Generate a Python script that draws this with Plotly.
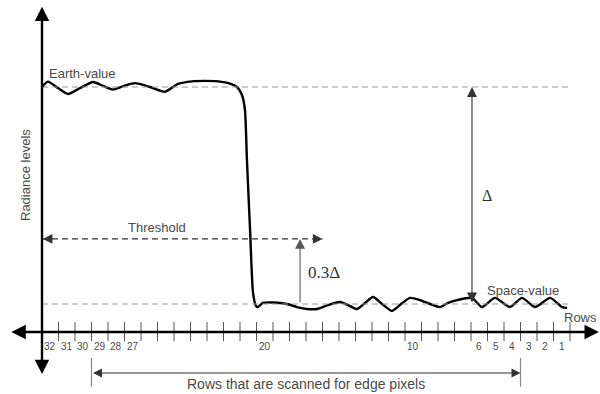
import plotly.graph_objects as go

# Scan-row position (one unit per row cell, 0 = left axis) and normalised radiance
# (space level = 0, earth level = 1) of the edge profile.
profile_pos = [0.00, 0.36, 0.97, 1.58, 2.30, 3.09, 3.70, 4.30, 4.97, 5.64, 6.55, 7.45,
               8.24, 9.09, 9.88, 10.67, 11.39, 11.82, 12.12, 12.30, 12.42, 12.61, 12.79,
               12.97, 13.09, 13.39, 14.00, 14.85, 15.45, 16.06, 16.67, 17.33, 18.06,
               18.55, 19.09, 19.58, 20.06, 20.61, 21.21, 21.76, 22.30, 22.91, 23.52,
               24.12, 24.61, 25.15, 26.06, 26.67, 27.45, 28.36, 29.09, 29.88, 30.79,
               31.52, 31.82]
profile_rad = [1.000, 1.025, 0.995, 0.968, 0.995, 1.023, 1.005, 0.988, 1.005, 1.018,
               1.000, 0.978, 1.014, 1.026, 1.028, 1.026, 1.016, 1.000, 0.963, 0.894,
               0.664, 0.341, 0.051, -0.009, -0.014, 0.005, 0.007, 0.000, -0.014, -0.023,
               -0.023, -0.005, 0.009, -0.005, -0.023, 0.005, 0.032, 0.000, -0.032, 0.000,
               0.028, 0.018, 0.000, -0.014, 0.005, 0.018, 0.028, -0.014, 0.028, -0.014,
               0.028, -0.014, 0.028, -0.014, -0.018]

# Row labels and where they sit along the row axis
row_labels = ["32", "31", "30", "29", "28", "27", "20", "10", "6", "5", "4", "3", "2", "1"]
row_label_pos = [0.5, 1.5, 2.5, 3.5, 4.5, 5.5, 13.5, 22.5, 26.5, 27.5, 28.5, 29.5, 30.5, 31.5]
n_rows = 32

earth_value = 1.0
space_value = 0.0
threshold_frac = 0.3
threshold = space_value + threshold_frac * (earth_value - space_value)

scan_start, scan_end = 3, 29          # cell boundaries of the scanned rows
delta_pos = 26.06                     # position of the Δ marker
thr_arrow_pos = 15.64                 # position of the 0.3Δ marker
thr_line_end = 17.0

axis_y = -0.129
x_range = [-42 / 16.5, 558 / 16.5]
y_range = [-90 / 217, 304 / 217]

TXT = "#4a4a4a"
DASH = "#9a9a9a"
FONT = "Liberation Sans, Arial, sans-serif"
SERIF = "Liberation Serif, Times New Roman, serif"

fig = go.Figure()

# tick marks on the row axis
tx, ty = [], []
for k in range(1, n_rows + 1):
    tx += [k, k, None]
    ty += [-0.083, -0.171, None]
fig.add_trace(go.Scatter(x=tx, y=ty, mode="lines", line=dict(color="#555", width=1),
                         hoverinfo="skip"))

# reference levels
for lvl in (earth_value, space_value):
    fig.add_shape(type="line", x0=0, x1=n_rows, y0=lvl, y1=lvl,
                  line=dict(color=DASH, width=1.2, dash="6px,4px"))

# threshold line
fig.add_shape(type="line", x0=0, x1=thr_line_end, y0=threshold, y1=threshold,
              line=dict(color="#333", width=1.2, dash="6px,4px"))

# radiance profile
fig.add_trace(go.Scatter(x=profile_pos, y=profile_rad, mode="lines",
                         line=dict(color="black", width=2.4, shape="spline", smoothing=0.6),
                         hoverinfo="skip"))

ann = []


def arrow(x, y, ax, ay, color, width, size, side="end", head=2):
    ann.append(dict(x=x, y=y, ax=ax, ay=ay, xref="x", yref="y", axref="x", ayref="y",
                    showarrow=True, arrowhead=head, arrowsize=size, arrowwidth=width,
                    arrowcolor=color, arrowside=side, text="", standoff=0, startstandoff=0))


# axes
arrow(33.75, axis_y, -1.95, axis_y, "black", 2.4, 1.2, "end+start")
arrow(0, 1.37, 0, -0.33, "black", 2.4, 1.2, "end+start")

# threshold arrowheads
arrow(0.05, threshold, 0.6, threshold, "#333", 1.2, 1.6)
arrow(thr_line_end, threshold, thr_line_end - 0.5, threshold, "#333", 1.2, 1.6)

# Δ and 0.3Δ
arrow(delta_pos, earth_value, delta_pos, space_value, "#333", 1.1, 1.8, "end+start")
arrow(thr_arrow_pos, threshold, thr_arrow_pos, space_value, "#555", 1.1, 1.8)

# scanned rows bracket
for p in (scan_start, scan_end):
    fig.add_shape(type="line", x0=p, x1=p, y0=-0.249, y1=-0.382,
                  line=dict(color="#888", width=1.2))
arrow(scan_end, -0.318, scan_start, -0.318, "#333", 1.2, 1.5, "end+start")

# row labels
for lab, pos in zip(row_labels, row_label_pos):
    ann.append(dict(x=pos, y=-0.198, xref="x", yref="y", text=lab, showarrow=False,
                    font=dict(family=FONT, size=10, color=TXT)))

texts = [
    dict(x=(82 - 42) / 16.5, y=(304 - 73) / 217, text="Earth-value", size=13),
    dict(x=(157 - 42) / 16.5, y=(304 - 227) / 217, text="Threshold", size=13),
    dict(x=(523 - 42) / 16.5, y=(304 - 290) / 217, text="Space-value", size=13),
    dict(x=(306 - 42) / 16.5, y=(304 - 384) / 217, text="Rows that are scanned for edge pixels",
         size=14),
]
for t in texts:
    ann.append(dict(x=t["x"], y=t["y"], xref="x", yref="y", text=t["text"], showarrow=False,
                    font=dict(family=FONT, size=t["size"], color=TXT)))

ann.append(dict(x=(599 - 42) / 16.5, y=(304 - 317) / 217, xref="x", yref="y", text="Rows",
                showarrow=False, xanchor="right", font=dict(family=FONT, size=13, color=TXT)))
ann.append(dict(x=(25 - 42) / 16.5, y=(304 - 175) / 217, xref="x", yref="y",
                text="Radiance levels", textangle=-90, showarrow=False,
                font=dict(family=FONT, size=13, color=TXT)))
ann.append(dict(x=(487 - 42) / 16.5, y=(304 - 195) / 217, xref="x", yref="y", text="Δ",
                showarrow=False, font=dict(family=SERIF, size=16, color="#333")))
ann.append(dict(x=(324 - 42) / 16.5, y=(304 - 272) / 217, xref="x", yref="y", text="0.3Δ",
                showarrow=False, font=dict(family=SERIF, size=17, color="#333")))

fig.update_layout(
    width=600, height=394, margin=dict(l=0, r=0, t=0, b=0),
    paper_bgcolor="white", plot_bgcolor="white", showlegend=False,
    xaxis=dict(range=x_range, visible=False, fixedrange=True),
    yaxis=dict(range=y_range, visible=False, fixedrange=True),
    annotations=ann,
)

fig.write_html("out.html")
